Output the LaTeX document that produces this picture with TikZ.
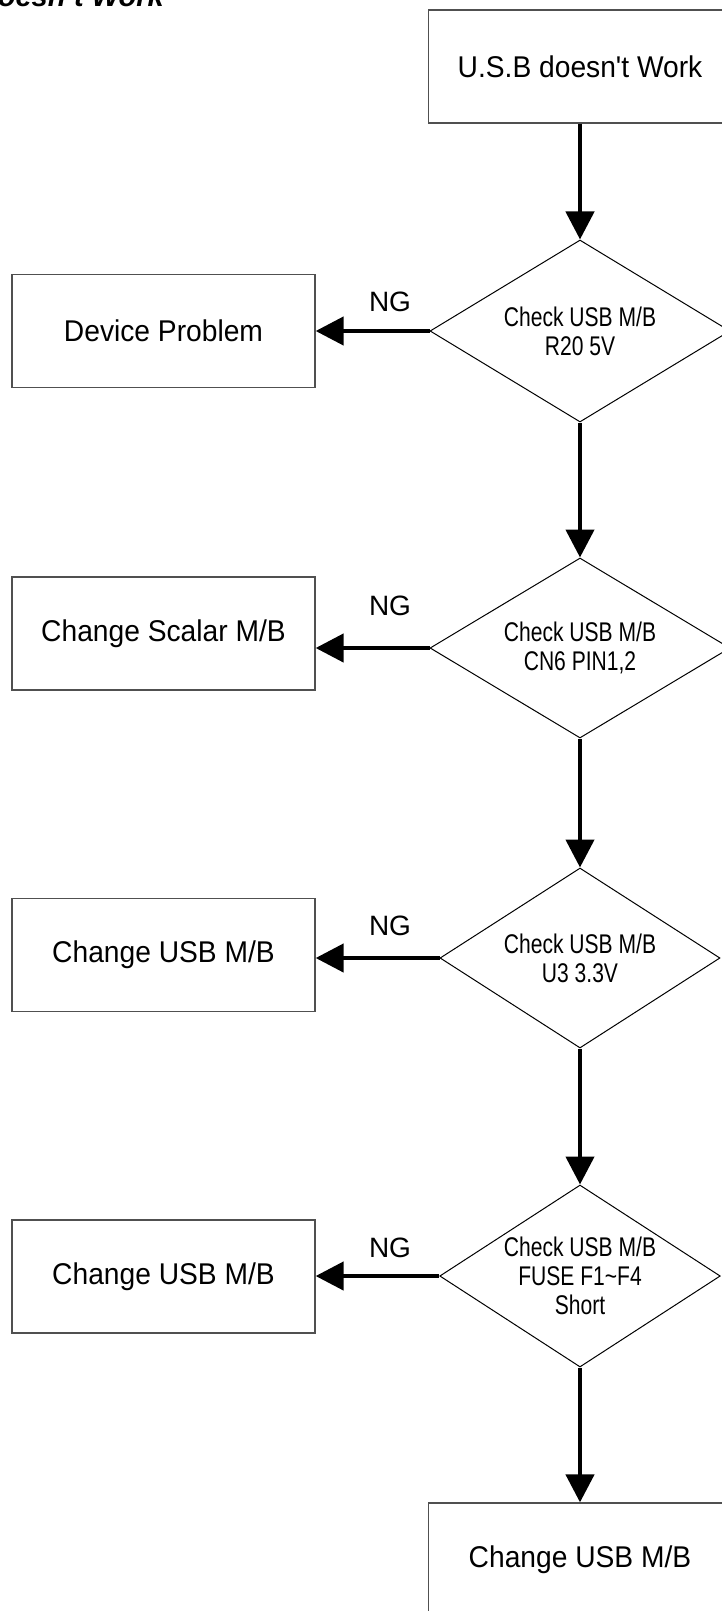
\documentclass[tikz,border=0pt]{standalone}
\usepackage{fontspec}
\setmainfont{Liberation Sans}
\newfontfamily\boxfont[FakeStretch=0.94]{Liberation Sans}
\newfontfamily\chkfont[FakeStretch=0.78]{Liberation Sans}
\usetikzlibrary{arrows.meta,shapes.geometric}
\tikzset{
  stepbox/.style={draw=boxline, line width=1.3pt, minimum width=303pt, minimum height=113pt, inner sep=0pt, font=\boxfont\fontsize{30}{34}\selectfont},
  check/.style={draw, line width=1pt, diamond, aspect=1.65, inner sep=0pt, align=center, font=\chkfont\fontsize{27}{29}\selectfont},
  flow/.style={-{Triangle[length=28pt, width=28pt]}, line width=4.5pt},
  ng/.style={font=\fontsize{28}{30}\selectfont},
  title/.style={font=\bfseries\itshape\fontsize{29}{32}\selectfont, inner sep=0pt},
}
\definecolor{boxline}{RGB}{80,80,80}

\begin{document}
\begin{tikzpicture}[x=1pt, y=-1pt]
  \useasboundingbox (0,0) rectangle (722,1611);
  \node[title, anchor=base east] (head) at (164,7) {oesn't Work};
  % main column
  \node[stepbox] (start) at (580,66.5) {U.S.B doesn't Work};
  \node[check, minimum width=300pt, minimum height=182pt] (c1) at (580,331) {Check USB M/B\\R20 5V};
  \node[check, minimum width=300pt, minimum height=180pt] (c2) at (580,648) {Check USB M/B\\CN6 PIN1,2};
  \node[check, minimum width=280pt, minimum height=180pt] (c3) at (580,958) {Check USB M/B\\U3 3.3V};
  \node[check, minimum width=280pt, minimum height=182pt] (c4) at (580,1276) {Check USB M/B\\FUSE F1\char`~F4\\Short};
  \node[stepbox] (end) at (580,1559.5) {Change USB M/B};
  % NG side
  \node[stepbox] (b1) at (163.5,331) {Device Problem};
  \node[stepbox] (b2) at (163.5,633.5) {Change Scalar M/B};
  \node[stepbox] (b3) at (163.5,955) {Change USB M/B};
  \node[stepbox] (b4) at (163.5,1276.5) {Change USB M/B};
  \node[ng] (ng1) at (390,302) {NG};
  \node[ng] (ng2) at (390,606) {NG};
  \node[ng] (ng3) at (390,926) {NG};
  \node[ng] (ng4) at (390,1248) {NG};

  \draw[flow] (start) -- (c1);
  \draw[flow] (c1) -- (c2);
  \draw[flow] (c2) -- (c3);
  \draw[flow] (c3) -- (c4);
  \draw[flow] (c4) -- (end);
  \foreach \i in {1,...,4}
    \draw[flow] (c\i.west) -- (c\i.west -| b\i.east);
\end{tikzpicture}
\end{document}
